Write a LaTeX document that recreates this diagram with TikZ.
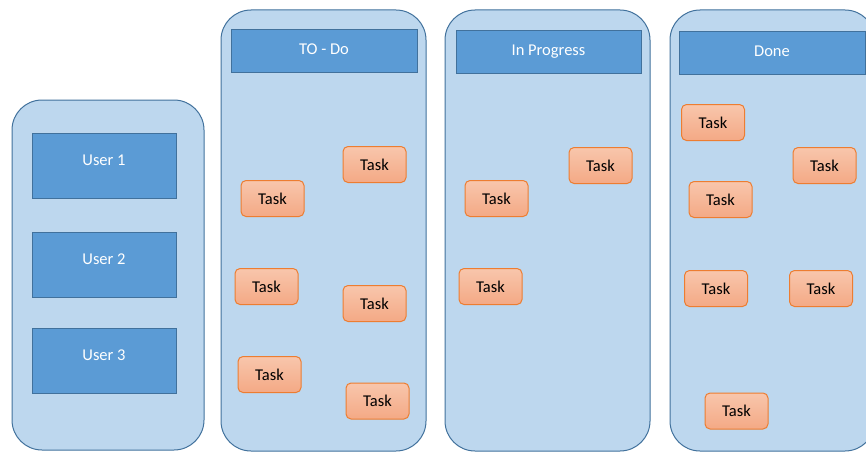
\documentclass[tikz,border=0pt]{standalone}
\usepackage{fontspec}
\setmainfont{Carlito}
\definecolor{colfill}{HTML}{BDD7EE}
\definecolor{colline}{HTML}{41719C}
\definecolor{hdrfill}{HTML}{5B9BD5}
\definecolor{tasktop}{HTML}{F8C6AC}
\definecolor{taskbot}{HTML}{F4A985}
\definecolor{taskline}{HTML}{ED7D31}
\tikzset{
  col/.style={draw=colline, fill=colfill, line width=1pt, rounded corners=30pt, inner sep=0pt},
  hdr/.style={draw=colline, fill=hdrfill, line width=0.8pt, inner sep=0pt, text=white, font=\fontsize{16.5}{19}\selectfont},
  task/.style={draw=taskline, line width=1pt, rounded corners=5pt, top color=tasktop, bottom color=taskbot,
    minimum width=63pt, minimum height=36pt, inner sep=0pt, font=\fontsize{16.5}{19}\selectfont}
}
\begin{document}
\begin{tikzpicture}[x=1pt,y=-1pt]
\useasboundingbox (0,0) rectangle (866,452);
\clip (0,0) rectangle (866,452);
% columns
\node[col, minimum width=192pt, minimum height=350pt] (users) at (108,275) {};
\node[col, minimum width=205pt, minimum height=441pt] (todo) at (323.5,230.5) {};
\node[col, minimum width=205pt, minimum height=441pt] (prog) at (547.5,230.5) {};
\node[col, minimum width=205pt, minimum height=441pt] (done) at (772.5,230.5) {};
% headers
\node[hdr, minimum width=186pt, minimum height=43pt] (htodo) at (324,50.5) {\raisebox{3pt}{TO - Do}};
\node[hdr, minimum width=185pt, minimum height=43pt] (hprog) at (548.5,51.5) {\raisebox{3pt}{In Progress}};
\node[hdr, minimum width=186pt, minimum height=43pt] (hdone) at (772,52.5) {\raisebox{3pt}{Done}};
% users
\node[hdr, minimum width=144pt, minimum height=65pt] (u1) at (104,165.5) {\raisebox{11pt}{User 1}};
\node[hdr, minimum width=144pt, minimum height=65pt] (u2) at (104,264.5) {\raisebox{11pt}{User 2}};
\node[hdr, minimum width=144pt, minimum height=65pt] (u3) at (104,360.5) {\raisebox{11pt}{User 3}};
% to-do tasks
\node[task] (t1) at (272.5,198.5) {Task};
\node[task] (t2) at (374.5,164.5) {Task};
\node[task] (t3) at (266.5,286.5) {Task};
\node[task] (t4) at (374.5,303.5) {Task};
\node[task] (t5) at (269.5,374.5) {Task};
\node[task] (t6) at (377.5,401) {Task};
% in progress tasks
\node[task] (p1) at (496.5,198.5) {Task};
\node[task] (p2) at (600.5,165.5) {Task};
\node[task] (p3) at (490.5,286.5) {Task};
% done tasks
\node[task] (d1) at (713,122.5) {Task};
\node[task] (d2) at (824.5,165.5) {Task};
\node[task] (d3) at (720.5,199.5) {Task};
\node[task] (d4) at (716,288.5) {Task};
\node[task] (d5) at (821,288.5) {Task};
\node[task] (d6) at (736.5,411) {Task};
\end{tikzpicture}
\end{document}
